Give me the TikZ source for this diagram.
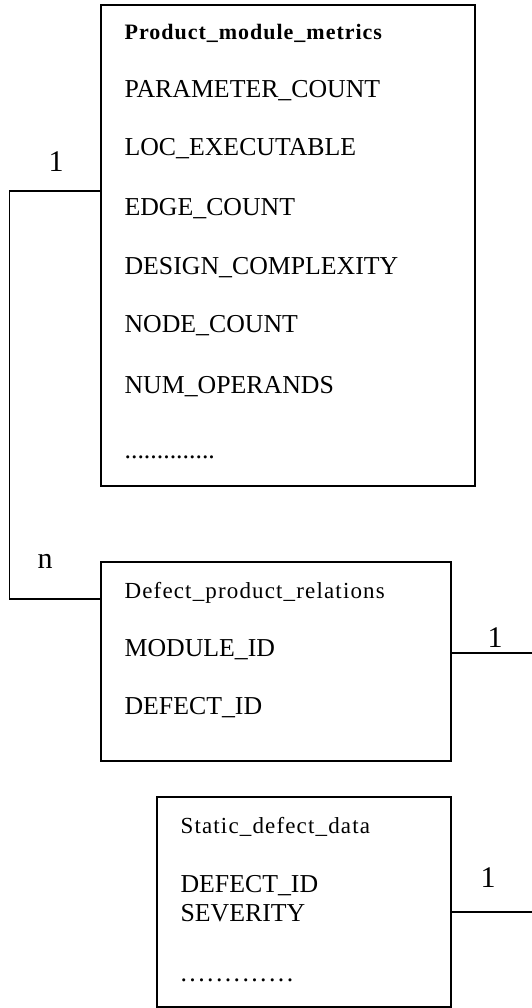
\documentclass[tikz,border=0pt]{standalone}
\usepackage{fontspec}
\setmainfont{Liberation Serif}

\begin{document}
\begin{tikzpicture}[x=1pt, y=-1pt, line width=1.2pt,
    tbl/.style={draw, rectangle, inner sep=0pt},
    fld/.style={anchor=base west, inner sep=0pt, font=\fontsize{25.8}{26}\selectfont},
    ttl/.style={anchor=base west, inner sep=0pt, font=\fontsize{23}{23}\selectfont\addfontfeature{LetterSpace=5}},
    card/.style={anchor=base west, inner sep=0pt, font=\fontsize{30}{30}\selectfont}]
    \useasboundingbox (0,0) rectangle (532,1008);
    % tables
    \node[tbl, minimum width=374pt, minimum height=481pt] (metrics) at (288,245.5) {};
    \node[tbl, minimum width=350pt, minimum height=199pt] (relations) at (276,661.5) {};
    \node[tbl, minimum width=294pt, minimum height=210pt] (static) at (304,902) {};
    % Product_module_metrics
    \node[ttl, font=\fontsize{22}{22}\selectfont\bfseries\addfontfeature{LetterSpace=4.5}] (t1) at (124,40) {Product\_module\_metrics};
    \node[fld] (f11) at (124,98) {PARAMETER\_COUNT};
    \node[fld] (f12) at (124,156) {LOC\_EXECUTABLE};
    \node[fld] (f13) at (124,216) {EDGE\_COUNT};
    \node[fld] (f14) at (124,274) {DESIGN\_COMPLEXITY};
    \node[fld] (f15) at (124,332) {NODE\_COUNT};
    \node[fld] (f16) at (124,393) {NUM\_OPERANDS};
    \node[fld] (f17) at (124,458) {..............};
    % Defect_product_relations
    \node[ttl] (t2) at (124,598) {Defect\_product\_relations};
    \node[fld] (f21) at (124,656) {MODULE\_ID};
    \node[fld] (f22) at (124,714) {DEFECT\_ID};
    % Static_defect_data
    \node[ttl] (t3) at (180,833) {Static\_defect\_data};
    \node[fld] (f31) at (180,892) {DEFECT\_ID};
    \node[fld] (f32) at (180,921) {SEVERITY};
    \node[fld] (f33) at (180,981) {\foreach \i in {1,...,13}{.\kern2.4pt}};
    % relations
    \coordinate (out2) at (532,653);
    \coordinate (out3) at (532,912);
    \draw ([yshift=54.5pt]metrics.west) -- ++(-91,0) |- ([yshift=62.5pt]relations.west);
    \draw ([yshift=8.5pt]relations.east) -- (out2);
    \draw ([yshift=-10pt]static.east) -- (out3);
    \node[card] (c1) at (48,172) {1};
    \node[card] (c2) at (37,568) {n};
    \node[card] (c3) at (487,647) {1};
    \node[card] (c4) at (480,887) {1};
\end{tikzpicture}
\end{document}
